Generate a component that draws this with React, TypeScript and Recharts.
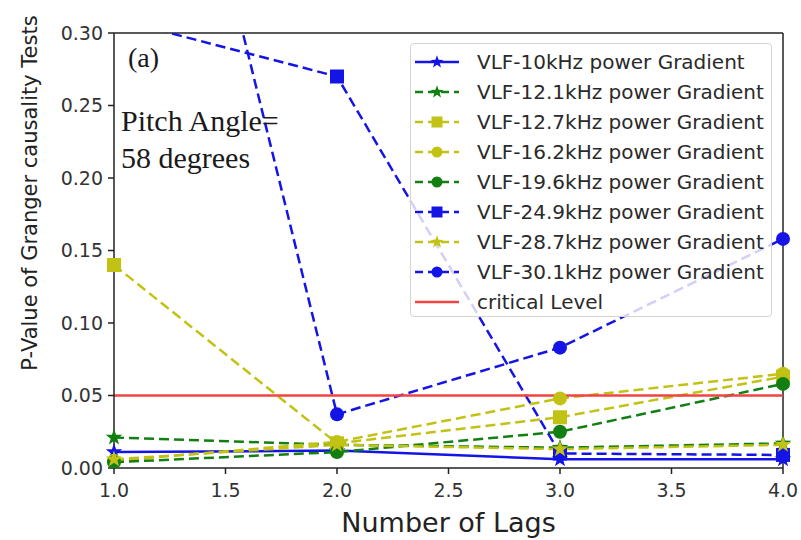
import {
  Label,
  Legend,
  Line,
  LineChart,
  ReferenceLine,
  XAxis,
  YAxis,
} from "recharts";

const lags = [1, 2, 3, 4];
const xTicks = [1, 1.5, 2, 2.5, 3, 3.5, 4];
const yTicks = [0, 0.05, 0.1, 0.15, 0.2, 0.25, 0.3];

const vlf10 = [0.011, 0.012, 0.006, 0.006];
const vlf121 = [0.021, 0.016, 0.014, 0.017];
const vlf127 = [0.14, 0.017, 0.035, 0.063];
const vlf162 = [0.005, 0.018, 0.048, 0.065];
const vlf196 = [0.004, 0.011, 0.025, 0.058];
const vlf249 = [0.31, 0.27, 0.01, 0.009];
const vlf287 = [0.006, 0.016, 0.013, 0.016];
const vlf301 = [0.66, 0.037, 0.083, 0.158];
const criticalLevel = [0.05, 0.05, 0.05, 0.05];

const BLUE = "#1414e6";
const GREEN = "#137f13";
const YELLOW = "#c2c214";
const RED = "#f04343";

type Shape = "star" | "square" | "circle" | "none";

const series: {
  key: string;
  name: string;
  values: number[];
  color: string;
  shape: Shape;
  dashed: boolean;
}[] = [
  { key: "vlf10", name: "VLF-10kHz power Gradient", values: vlf10, color: BLUE, shape: "star", dashed: false },
  { key: "vlf121", name: "VLF-12.1kHz power Gradient", values: vlf121, color: GREEN, shape: "star", dashed: true },
  { key: "vlf127", name: "VLF-12.7kHz power Gradient", values: vlf127, color: YELLOW, shape: "square", dashed: true },
  { key: "vlf162", name: "VLF-16.2kHz power Gradient", values: vlf162, color: YELLOW, shape: "circle", dashed: true },
  { key: "vlf196", name: "VLF-19.6kHz power Gradient", values: vlf196, color: GREEN, shape: "circle", dashed: true },
  { key: "vlf249", name: "VLF-24.9kHz power Gradient", values: vlf249, color: BLUE, shape: "square", dashed: true },
  { key: "vlf287", name: "VLF-28.7kHz power Gradient", values: vlf287, color: YELLOW, shape: "star", dashed: true },
  { key: "vlf301", name: "VLF-30.1kHz power Gradient", values: vlf301, color: BLUE, shape: "circle", dashed: true },
  { key: "critical", name: "critical Level", values: criticalLevel, color: RED, shape: "none", dashed: false },
];

const data = lags.map((lag, i) => {
  const row: Record<string, number> = { lag };
  series.forEach((s) => {
    row[s.key] = s.values[i];
  });
  return row;
});

function starPath(cx: number, cy: number, outer: number, inner: number) {
  let d = "";
  for (let i = 0; i < 10; i++) {
    const r = i % 2 === 0 ? outer : inner;
    const a = -Math.PI / 2 + (i * Math.PI) / 5;
    d += (i === 0 ? "M" : "L") + (cx + r * Math.cos(a)).toFixed(2) + "," + (cy + r * Math.sin(a)).toFixed(2);
  }
  return d + "Z";
}

function Marker({ shape, color, cx, cy, size }: { shape: Shape; color: string; cx: number; cy: number; size: number }) {
  if (shape === "circle") return <circle cx={cx} cy={cy} r={size / 2} fill={color} />;
  if (shape === "square")
    return <rect x={cx - size / 2} y={cy - size / 2} width={size} height={size} fill={color} />;
  if (shape === "star") return <path d={starPath(cx, cy, size * 0.62, size * 0.25)} fill={color} />;
  return null;
}

const renderDot = (shape: Shape, color: string) => (props: any) => {
  const { cx, cy, index } = props;
  if (cx == null || cy == null) return <g key={index} />;
  return <Marker key={index} shape={shape} color={color} cx={cx} cy={cy} size={14} />;
};

function LegendBox() {
  return (
    <div
      style={{
        width: 362,
        height: 274,
        boxSizing: "border-box",
        border: "1px solid #d4d4d4",
        borderRadius: 4,
        background: "rgba(255,255,255,0.8)",
        paddingTop: 3,
      }}
    >
      {series.map((s) => (
        <div key={s.key} style={{ display: "flex", alignItems: "center", height: 30 }}>
          <svg width={62} height={24} style={{ flex: "none" }}>
            <line
              x1={4}
              x2={48}
              y1={12}
              y2={12}
              stroke={s.color}
              strokeWidth={2.5}
              strokeDasharray={s.dashed ? "8 5" : undefined}
            />
            <Marker shape={s.shape} color={s.color} cx={26} cy={12} size={11} />
          </svg>
          <span
            style={{
              fontFamily: "DejaVu Sans",
              fontSize: 20,
              color: "#2a2a2a",
              marginLeft: 4,
              whiteSpace: "nowrap",
            }}
          >
            {s.name}
          </span>
        </div>
      ))}
    </div>
  );
}

const tickStyle = { fill: "#333", fontSize: 19, fontFamily: "DejaVu Sans" };

export default function App() {
  return (
    <div style={{ position: "absolute", left: 0, top: 0, width: 801, height: 540, background: "#fff" }}>
      <LineChart width={801} height={540} data={data} margin={{ top: 33, right: 18, bottom: 0, left: 0 }}>
        <XAxis
          dataKey="lag"
          type="number"
          domain={[1, 4]}
          ticks={xTicks}
          tickFormatter={(v: number) => v.toFixed(1)}
          height={72}
          stroke="#222"
          strokeWidth={1.5}
          tick={{ ...tickStyle, dy: 8 }}
          tickSize={6}
          label={{
            value: "Number of Lags",
            position: "insideBottom",
            offset: 8,
            style: { fill: "#222", fontSize: 27, fontFamily: "DejaVu Sans" },
          }}
        />
        <YAxis
          type="number"
          domain={[0, 0.3]}
          ticks={yTicks}
          allowDataOverflow
          tickFormatter={(v: number) => v.toFixed(2)}
          width={114}
          stroke="#222"
          strokeWidth={1.5}
          tick={{ ...tickStyle, dx: -3 }}
          tickSize={6}
        >
          <Label
            content={() => (
              <text
                x={30}
                y={193}
                transform="rotate(-90, 30, 193)"
                textAnchor="middle"
                dominantBaseline="central"
                fill="#222"
                fontSize={21}
                fontFamily="DejaVu Sans"
              >
                P-Value of Granger causality Tests
              </text>
            )}
          />
        </YAxis>
        <ReferenceLine y={0.3} stroke="#222" strokeWidth={1.5} />
        <ReferenceLine x={4} stroke="#222" strokeWidth={1.5} />
        {series.map((s) => (
          <Line
            key={s.key}
            dataKey={s.key}
            name={s.name}
            stroke={s.color}
            strokeWidth={2.5}
            strokeDasharray={s.dashed ? "10 5" : undefined}
            dot={s.shape === "none" ? false : renderDot(s.shape, s.color)}
            activeDot={false}
            isAnimationActive={false}
          />
        ))}
        <Legend
          layout="vertical"
          align="center"
          verticalAlign="middle"
          content={() => <LegendBox />}
          wrapperStyle={{ position: "absolute", left: 410, top: 43, width: 362, height: 274 }}
        />
      </LineChart>
      <div
        style={{
          position: "absolute",
          left: 0,
          top: 0,
          fontFamily: "Liberation Serif",
          color: "#1a1a1a",
          pointerEvents: "none",
        }}
      >
        <div style={{ position: "absolute", left: 128, top: 42, fontSize: 28, whiteSpace: "nowrap" }}>(a)</div>
        <div style={{ position: "absolute", left: 121, top: 102, fontSize: 30, lineHeight: "37px", whiteSpace: "nowrap" }}>
          Pitch Angle=
          <br />
          58 degrees
        </div>
      </div>
    </div>
  );
}
